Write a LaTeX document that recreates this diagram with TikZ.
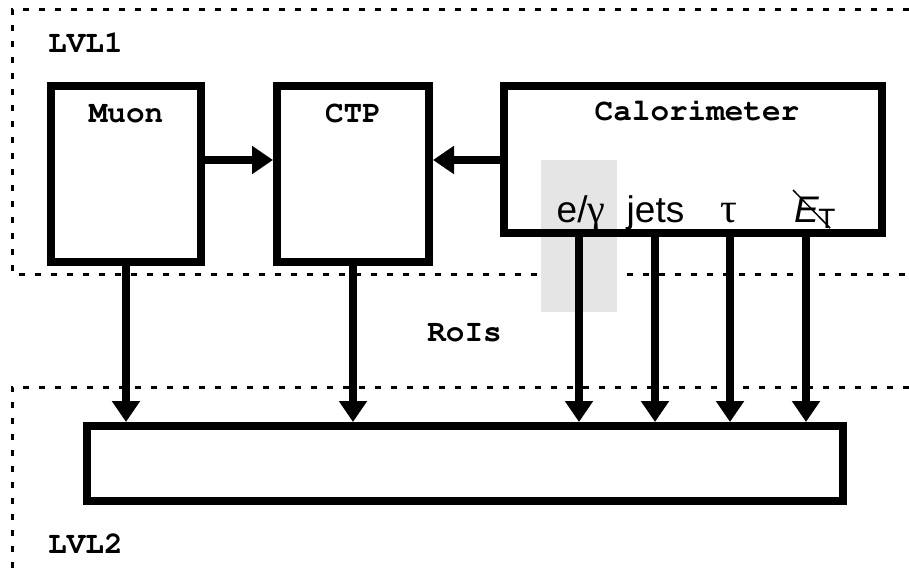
\documentclass[tikz,border=0pt]{standalone}
\usepackage[T1]{fontenc}
\usepackage{fontspec}
\setmainfont{Liberation Sans}
\newfontfamily\greekfont{Liberation Serif}
\usetikzlibrary{arrows.meta}
\definecolor{hilite}{RGB}{229,229,229}
\newcommand{\courbold}{\fontencoding{T1}\fontfamily{pcr}\fontseries{b}\fontshape{n}\fontsize{31}{31}\selectfont}
\begin{document}
\begin{tikzpicture}[x=1pt,y=-1pt,
  box/.style={draw, line width=8pt, inner sep=0pt},
  arr/.style={line width=8pt, -{Triangle[width=27pt,length=21pt]}},
  dashline/.style={line width=3pt, dash pattern=on 6pt off 10pt},
  lbl/.style={font=\courbold, inner sep=0pt},
  sig/.style={font=\fontsize{37}{37}\selectfont, inner sep=0pt, anchor=base}]
\useasboundingbox (0,0) rectangle (909,575);
% level separators
\draw[dashline] (909,10) -- (12,10) -- (12,274) -- (909,274);
\draw[dashline] (909,387) -- (12,387) -- (12,575);
% highlight
\node[fill=hilite, minimum width=76pt, minimum height=152pt, inner sep=0pt] (hl) at (579,236) {};
% boxes
\node[box, minimum width=150pt, minimum height=176pt] (muon) at (126,174) {};
\node[box, minimum width=152pt, minimum height=176pt] (ctp) at (353,174) {};
\node[box, minimum width=378pt, minimum height=147pt] (calo) at (693,159.5) {};
\node[box, minimum width=756pt, minimum height=75pt] (l2) at (465,463.5) {};
% labels
\node[lbl, anchor=base west] (lvl1) at (48,53) {LVL1};
\node[lbl, anchor=base west] (lvl2) at (48,553) {LVL2};
\node[lbl, anchor=base] (muonlbl) at (126,122) {Muon};
\node[lbl, anchor=base] (ctplbl) at (353,122) {CTP};
\node[lbl, anchor=base] (calolbl) at (697,121) {Calorimeter};
\node[lbl, anchor=base] (rois) at (464.5,341) {RoIs};
% signal labels
\node[sig] (eg) at (581,222) {e/{\greekfont\fontsize{40}{40}\selectfont γ}};
\node[sig] (jets) at (655.5,222) {jets};
\node[sig] (tau) at (729,222) {\greekfont\fontsize{42}{42}\selectfont τ};
\node[sig] (et) at (815,222) {\textit{E}\kern-1pt\raisebox{-6pt}{\fontsize{28}{28}\selectfont T}};
\draw[line width=1.5pt] (793,190) -- (830,228);
% channel x positions
\coordinate (xmu) at (126,0);
\coordinate (xctp) at (353,0);
\coordinate (xeg) at (579,0);
\coordinate (xjets) at (655,0);
\coordinate (xtau) at (730,0);
\coordinate (xet) at (806,0);
\coordinate (yh) at (0,160);
% connectors
\draw[arr] (muon.east |- yh) -- (ctp.west |- yh);
\draw[arr] (calo.west |- yh) -- (ctp.east |- yh);
\draw[arr] (muon.south) -- (l2.north -| xmu);
\draw[arr] (ctp.south) -- (l2.north -| xctp);
\draw[arr] (calo.south -| xeg) -- (l2.north -| xeg);
\draw[arr] (calo.south -| xjets) -- (l2.north -| xjets);
\draw[arr] (calo.south -| xtau) -- (l2.north -| xtau);
\draw[arr] (calo.south -| xet) -- (l2.north -| xet);
\end{tikzpicture}
\end{document}
